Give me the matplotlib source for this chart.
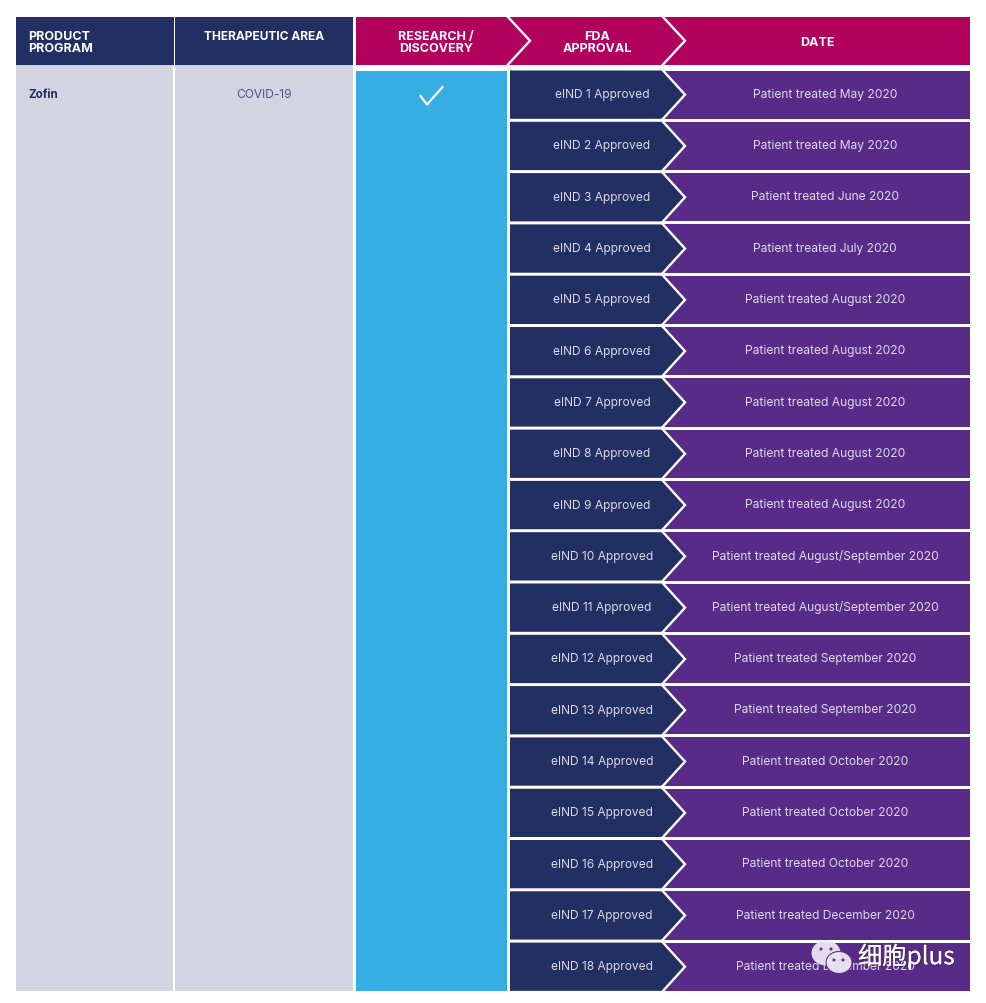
import matplotlib
matplotlib.use("Agg")
import matplotlib.pyplot as plt
from matplotlib.patches import Rectangle, Polygon, Ellipse
import matplotlib.patheffects as pe

plt.rcParams['font.family'] = ['Inter', 'Noto Sans CJK SC', 'DejaVu Sans']

headers_left = ["PRODUCT\nPROGRAM", "THERAPEUTIC AREA"]
headers_stage = ["RESEARCH /\nDISCOVERY", "FDA\nAPPROVAL", "DATE"]
program = "Zofin"
area = "COVID-19"
approvals = [f"eIND {n} Approved" for n in
             [1, 2, 3, 4, 5, 6, 7, 8, 9, 10, 11, 12, 13, 14, 15, 16, 17, 18]]
dates = ["May 2020", "May 2020", "June 2020", "July 2020", "August 2020",
         "August 2020", "August 2020", "August 2020", "August 2020",
         "August/September 2020", "August/September 2020", "September 2020",
         "September 2020", "October 2020", "October 2020", "October 2020",
         "December 2020", "December 2020"]

NAVY, MAGENTA, PURPLE = "#222f63", "#b2005d", "#592b88"
BLUE, GREY, TXT = "#36ade3", "#d2d5e1", "#dcd8e8"

fig = plt.figure(figsize=(9.86, 10.04), dpi=100, facecolor="white")
ax = fig.add_axes([0, 0, 1, 1])
ax.set_xlim(0, 986)
ax.set_ylim(1002, -2)
ax.axis("off")

def rect(x0, y0, x1, y1, c, z=1):
    ax.add_patch(Rectangle((x0, y0), x1 - x0, y1 - y0, fc=c, ec="none", zorder=z))

def chevron(x, y0, y1, w=22, lw=1.7):
    ax.plot([x, x + w, x], [y0, (y0 + y1) / 2, y1], color="white", lw=lw,
            solid_joinstyle="miter", zorder=4)

# header
HT, HB = 16, 63.5
rect(15.5, HT, 173.5, HB, NAVY)
rect(175, HT, 352.5, HB, NAVY)
rect(356, HT, 969.5, HB, MAGENTA)
chevron(508, HT, HB)
chevron(663, HT, HB)
hk = dict(color="white", fontweight="bold", fontsize=9.0, linespacing=1.0,
          va="center", zorder=5)
ax.text(28, 41, headers_left[0], ha="left", **hk)
ax.text(264, 35.5, headers_left[1], ha="center",
        **{**hk, "fontsize": 8.6})
ax.text(436, 41, headers_stage[0], ha="center", **hk)
ax.text(597, 41, headers_stage[1], ha="center", **hk)
ax.text(817, 40.5, headers_stage[2], ha="center", **hk)

# left body
BT, BB = 63.5, 990
rect(15.5, BT, 173, BB, GREY)
rect(175, BT, 352.5, BB, GREY)
rect(356, 69.5, 507, BB, BLUE)
ax.text(28, 92.5, program, color=NAVY, fontweight="bold", fontsize=8.3,
        ha="left", va="center", zorder=5)
ax.text(264, 92.5, area, color="#4b5585", fontsize=8.6, ha="center", va="center", zorder=5)
ax.plot([420.5, 427, 442.5], [95, 103.5, 86], color="white", lw=1.6, zorder=5)

# rows
top0, pitch, rh = 69.5, 51.3, 48.3
for i, (a, d) in enumerate(zip(approvals, dates)):
    t = top0 + i * pitch
    b = t + rh
    m = (t + b) / 2
    rect(664, t, 969.5, b, PURPLE, 1)
    ax.add_patch(Polygon([(510, t), (663, t), (685, m), (663, b), (510, b)],
                         fc=NAVY, ec="none", zorder=2))
    chevron(663, t, b)
    ax.text(602, m - 0.5, a, color=TXT, fontsize=8.6, ha="center", va="center", zorder=5)
    ax.text(825, m - 0.8, "Patient treated " + d, color=TXT, fontsize=8.7,
            ha="center", va="center", zorder=5)

# watermark
WM = "#ece7f2"
ax.add_patch(Ellipse((826, 952), 29, 25, fc=WM, ec="none", alpha=0.95, zorder=6))
ax.add_patch(Ellipse((839, 961.5), 26, 22, fc=WM, ec=PURPLE, lw=0.8, alpha=0.95, zorder=7))
for x, y in [(821, 948), (831, 948), (834, 959), (843, 959)]:
    ax.add_patch(Ellipse((x, y), 3, 3, fc=PURPLE, ec="none", zorder=8))
ax.text(858, 956, "细胞plus", color="white", fontsize=17.5, ha="left", va="center", zorder=8,
        family=['Noto Sans CJK SC', 'DejaVu Sans'],
        path_effects=[pe.withSimplePatchShadow(offset=(0.8, -0.8), shadow_rgbFace="#333333", alpha=0.6), pe.Normal()])

fig.savefig("out.png", dpi=100)
